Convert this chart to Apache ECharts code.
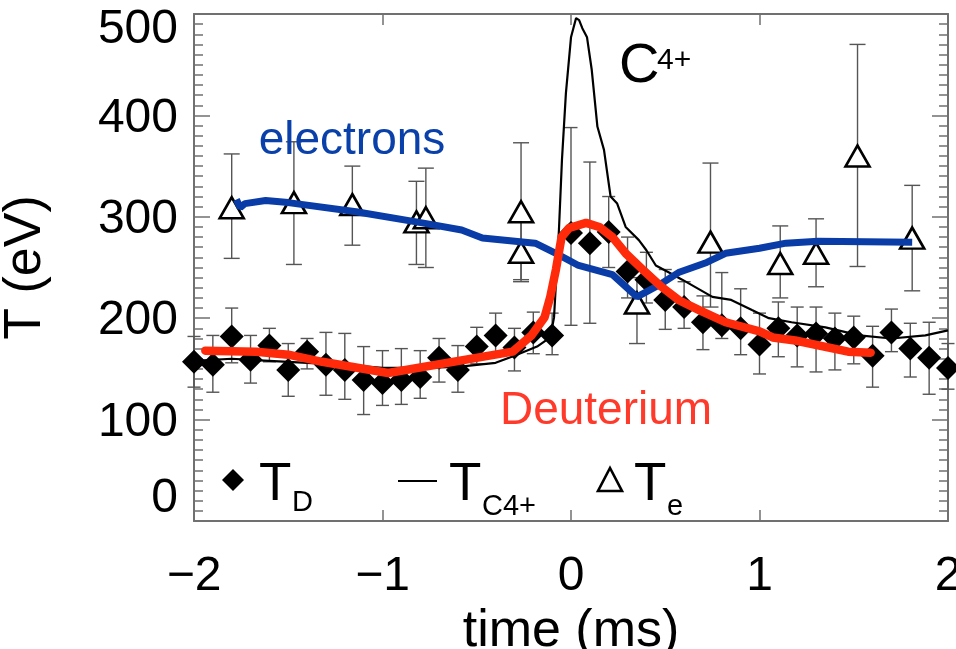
<!DOCTYPE html>
<html>
<head>
<meta charset="utf-8">
<script src="https://cdn.jsdelivr.net/npm/echarts@6/dist/echarts.min.js"></script>
<style>
  html, body { margin: 0; padding: 0; background: #fff; }
  #chart { width: 956px; height: 649px; }
</style>
</head>
<body>
<div id="chart"></div>
<script>
// T_D (diamonds) with error bars
const tdTime = [-2.0, -1.9, -1.8, -1.7, -1.6, -1.5, -1.4, -1.3, -1.2, -1.1, -1.0, -0.9, -0.8, -0.7, -0.6, -0.5, -0.4, -0.3, -0.2, -0.1,
  0.0, 0.1, 0.2, 0.3, 0.4, 0.5, 0.6, 0.7, 0.8, 0.9, 1.0, 1.1, 1.2, 1.3, 1.4, 1.5, 1.6, 1.7, 1.8, 1.9, 2.0]
const tdTemp = [157, 154, 182, 159, 173, 149, 167, 154, 149, 139, 136, 139, 142, 161, 149, 172, 183, 171, 186, 183,
  284, 274, 285, 246, 238, 218, 211, 196, 193, 190, 174, 190, 183, 185, 180, 181, 163, 186, 170, 161, 151]
const tdLow = [132, 127, 156, 136, 157, 123, 150, 124, 120, 105, 114, 115, 121, 137, 127, 155, 165, 148, 165, 164,
  193, 195, 250, 220, 215, 189, 190, 169, 180, 164, 145, 162, 152, 147, 149, 155, 132, 167, 142, 125, 130]
const tdHigh = [182, 183, 210, 183, 190, 175, 180, 186, 185, 172, 168, 170, 168, 180, 173, 191, 205, 190, 206, 205,
  388, 354, 320, 280, 265, 248, 236, 222, 245, 229, 205, 216, 211, 211, 205, 202, 192, 209, 195, 196, 175]

// T_e (triangles) with error bars
const teTime = [-1.80, -1.47, -1.16, -0.82, -0.77, -0.265, -0.265, 0.35, 0.74, 1.11, 1.30, 1.52, 1.81]
const teTemp = [309, 314, 312, 295, 299, 305, 265, 215, 275, 254, 264, 360, 279]
const teLow = [259, 253, 272, 253, 250, 236, 238, 175, 211, 220, 231, 251, 227]
const teHigh = [362, 374, 350, 335, 348, 373, 298, 240, 353, 291, 298, 470, 331]

// T_C4+ trace
const c4Time = [-2.0, -1.8, -1.6, -1.4, -1.2, -1.0, -0.8, -0.6, -0.4, -0.3,
  -0.18, -0.11, -0.09, -0.064, -0.048, -0.027, 0.0, 0.027, 0.043, 0.06,
  0.085, 0.11, 0.14, 0.175, 0.21, 0.245, 0.29, 0.36, 0.40, 0.45,
  0.52, 0.59, 0.75, 0.85, 0.96, 1.05, 1.17, 1.35, 1.53, 1.70, 1.88, 2.0]
const c4Temp = [158, 160, 158, 156, 154, 151, 151, 152, 156, 163,
  172, 181, 201, 287, 356, 422, 477, 496, 494, 486,
  477, 445, 389, 366, 320, 313, 290, 277, 267, 252,
  245, 238, 221, 218, 208, 200, 196, 191, 183, 180, 183, 188]

// electrons fit (blue)
const eTime = [-1.775, -1.755, -1.73, -1.62, -1.50, -1.14, -0.79, -0.58, -0.47, -0.19, -0.08, 0.04, 0.22, 0.35, 0.47, 0.57, 0.72, 0.82, 1.00, 1.14, 1.31, 1.81]
const eTemp = [317, 309, 313, 316, 314, 305, 294, 287, 279, 274, 264, 252, 243, 221, 233, 245, 255, 264, 269, 274, 276, 275]

// deuterium fit (red)
const dTime = [-1.94, -1.67, -1.5, -1.32, -0.97, -0.31, -0.21, -0.14, -0.11, -0.08, -0.05, -0.01, 0.08, 0.15, 0.22, 0.29, 0.38, 0.48, 0.57, 0.68, 0.82, 1.0, 1.07, 1.19, 1.47, 1.59]
const dTemp = [168, 167, 164, 157, 146, 167, 183, 201, 221, 248, 280, 289, 294, 290, 280, 264, 248, 231, 218, 208, 196, 187, 181, 178, 167, 166]

const xTicks = [-2, -1, 0, 1, 2]
const yTicks = [0, 100, 200, 300, 400, 500]

const FONT = 'Liberation Sans, Arial, sans-serif'
const AXIS_GRAY = '#707070'
const BLUE = '#0a3ca8'
const RED = '#ff2a0a'

const zip = (xs, ys) => xs.map((x, i) => [x, ys[i]])
const zip3 = (xs, a, b) => xs.map((x, i) => [x, a[i], b[i]])

function errorBars(capHalf) {
  return function (params, api) {
    const x = api.value(0)
    const lo = api.coord([x, api.value(1)])
    const hi = api.coord([x, api.value(2)])
    const st = { stroke: '#555', lineWidth: 1.4 }
    return {
      type: 'group',
      children: [
        { type: 'line', shape: { x1: lo[0], y1: lo[1], x2: hi[0], y2: hi[1] }, style: st },
        { type: 'line', shape: { x1: hi[0] - capHalf, y1: hi[1], x2: hi[0] + capHalf, y2: hi[1] }, style: st },
        { type: 'line', shape: { x1: lo[0] - capHalf, y1: lo[1], x2: lo[0] + capHalf, y2: lo[1] }, style: st },
      ],
    }
  }
}

function axisBase(extra) {
  return Object.assign({
    type: 'value',
    splitLine: { show: false },
    axisLine: { show: true, onZero: false, lineStyle: { color: AXIS_GRAY, width: 2 } },
  }, extra)
}

const yLabel = (v) => v === 500 ? '{hi|500}' : v === 0 ? '{lo|0}' : '{m|' + v + '}'
const yRich = {
  hi: { fontSize: 48, fontFamily: FONT, color: '#000', padding: [32, 0, 0, 0] },
  lo: { fontSize: 48, fontFamily: FONT, color: '#000', padding: [0, 0, 44, 0] },
  m: { fontSize: 48, fontFamily: FONT, color: '#000', padding: [6, 0, 0, 0] },
}

const chart = echarts.init(document.getElementById('chart'), null, { renderer: 'canvas' })

chart.setOption({
  animation: false,
  backgroundColor: '#fff',
  grid: { left: 194, right: 8, top: 14, bottom: 128, containLabel: false, outerBoundsMode: 'none' },
  xAxis: [
    axisBase({
      position: 'bottom', min: xTicks[0], max: xTicks[xTicks.length - 1], interval: 1,
      axisTick: { inside: true, length: 11, lineStyle: { color: AXIS_GRAY, width: 1.5 } },
      axisLabel: {
        fontSize: 48, fontFamily: FONT, color: '#000', margin: 32,
        formatter: (v) => v < 0 ? '\u2212' + Math.abs(v) : String(v),
      },
      name: 'time (ms)', nameLocation: 'middle', nameGap: 78,
      nameTextStyle: { fontSize: 52, fontFamily: FONT, color: '#000' },
    }),
    axisBase({
      position: 'top', min: xTicks[0], max: xTicks[xTicks.length - 1], interval: 1,
      axisTick: { inside: true, length: 11, lineStyle: { color: AXIS_GRAY, width: 1.5 } },
      axisLabel: { show: false },
    }),
  ],
  yAxis: [
    axisBase({
      position: 'left', min: yTicks[0], max: yTicks[yTicks.length - 1], interval: 100,
      axisTick: { inside: true, length: 16, lineStyle: { color: AXIS_GRAY, width: 1.5 } },
      minorTick: { show: true, splitNumber: 10, length: 9, lineStyle: { color: AXIS_GRAY, width: 1.5 } },
      axisLabel: { margin: 16, showMinLabel: true, showMaxLabel: true, formatter: yLabel, rich: yRich },
      name: 'T (eV)', nameLocation: 'middle', nameGap: 142,
      nameTextStyle: { fontSize: 52, fontFamily: FONT, color: '#000' },
    }),
    axisBase({
      position: 'right', min: yTicks[0], max: yTicks[yTicks.length - 1], interval: 100,
      axisTick: { inside: true, length: 16, lineStyle: { color: AXIS_GRAY, width: 1.5 } },
      minorTick: { show: true, splitNumber: 10, length: 9, lineStyle: { color: AXIS_GRAY, width: 1.5 } },
      axisLabel: { show: false },
    }),
  ],
  series: [
    {
      name: 'TD err', type: 'custom', z: 1, clip: false,
      renderItem: errorBars(6.5),
      encode: { x: 0, y: [1, 2] },
      data: zip3(tdTime, tdLow, tdHigh),
    },
    {
      name: 'Te err', type: 'custom', z: 1, clip: false,
      renderItem: errorBars(8),
      encode: { x: 0, y: [1, 2] },
      data: zip3(teTime, teLow, teHigh),
    },
    {
      name: 'T_C4+', type: 'line', z: 2, symbol: 'none', smooth: false,
      lineStyle: { color: '#000', width: 2.2 },
      data: zip(c4Time, c4Temp),
    },
    {
      name: 'T_D', type: 'scatter', z: 3, symbol: 'diamond', symbolSize: 24,
      itemStyle: { color: '#000', opacity: 1 },
      data: zip(tdTime, tdTemp),
    },
    {
      name: 'T_e', type: 'scatter', z: 3, symbol: 'triangle', symbolSize: [24, 21],
      itemStyle: { color: '#fff', borderColor: '#000', borderWidth: 2.6, opacity: 1 },
      data: zip(teTime, teTemp),
    },
    {
      name: 'electrons', type: 'line', z: 4, symbol: 'none',
      lineStyle: { color: BLUE, width: 7 },
      data: zip(eTime, eTemp),
    },
    {
      name: 'Deuterium', type: 'line', z: 5, symbol: 'none',
      lineStyle: { color: RED, width: 8.5, join: 'round', cap: 'round' },
      data: zip(dTime, dTemp),
    },
  ],
  graphic: [
    { type: 'text', z: 10, style: { x: 352, y: 141, text: 'electrons', fill: '#0a40aa', font: '46px ' + FONT, textAlign: 'center', textVerticalAlign: 'middle' } },
    { type: 'text', z: 10, style: { x: 606, y: 411, text: 'Deuterium', fill: '#ff3a2a', font: '46px ' + FONT, textAlign: 'center', textVerticalAlign: 'middle' } },
    { type: 'text', z: 10, style: { x: 619, y: 67, text: 'C', fill: '#000', font: '56px ' + FONT, textAlign: 'left', textVerticalAlign: 'middle' } },
    { type: 'text', z: 10, style: { x: 657, y: 61, text: '4+', fill: '#000', font: '30px ' + FONT, textAlign: 'left', textVerticalAlign: 'middle' } },
    // legend
    { type: 'polygon', z: 10, shape: { points: [[233, 469], [244, 480], [233, 491], [222, 480]] }, style: { fill: '#000' } },
    { type: 'text', z: 10, style: { x: 259, y: 485, text: 'T', fill: '#000', font: '53px ' + FONT, textAlign: 'left', textVerticalAlign: 'middle' } },
    { type: 'text', z: 10, style: { x: 292, y: 503, text: 'D', fill: '#000', font: '29px ' + FONT, textAlign: 'left', textVerticalAlign: 'middle' } },
    { type: 'line', z: 10, shape: { x1: 398, y1: 481, x2: 437, y2: 481 }, style: { stroke: '#000', lineWidth: 2 } },
    { type: 'text', z: 10, style: { x: 449, y: 485, text: 'T', fill: '#000', font: '53px ' + FONT, textAlign: 'left', textVerticalAlign: 'middle' } },
    { type: 'text', z: 10, style: { x: 482, y: 507, text: 'C4+', fill: '#000', font: '29px ' + FONT, textAlign: 'left', textVerticalAlign: 'middle' } },
    { type: 'polygon', z: 10, shape: { points: [[598, 491], [622, 491], [610, 468]] }, style: { fill: 'none', stroke: '#000', lineWidth: 2.6 } },
    { type: 'text', z: 10, style: { x: 634, y: 485, text: 'T', fill: '#000', font: '53px ' + FONT, textAlign: 'left', textVerticalAlign: 'middle' } },
    { type: 'text', z: 10, style: { x: 667, y: 507, text: 'e', fill: '#000', font: '29px ' + FONT, textAlign: 'left', textVerticalAlign: 'middle' } },
  ],
})
</script>
</body>
</html>
